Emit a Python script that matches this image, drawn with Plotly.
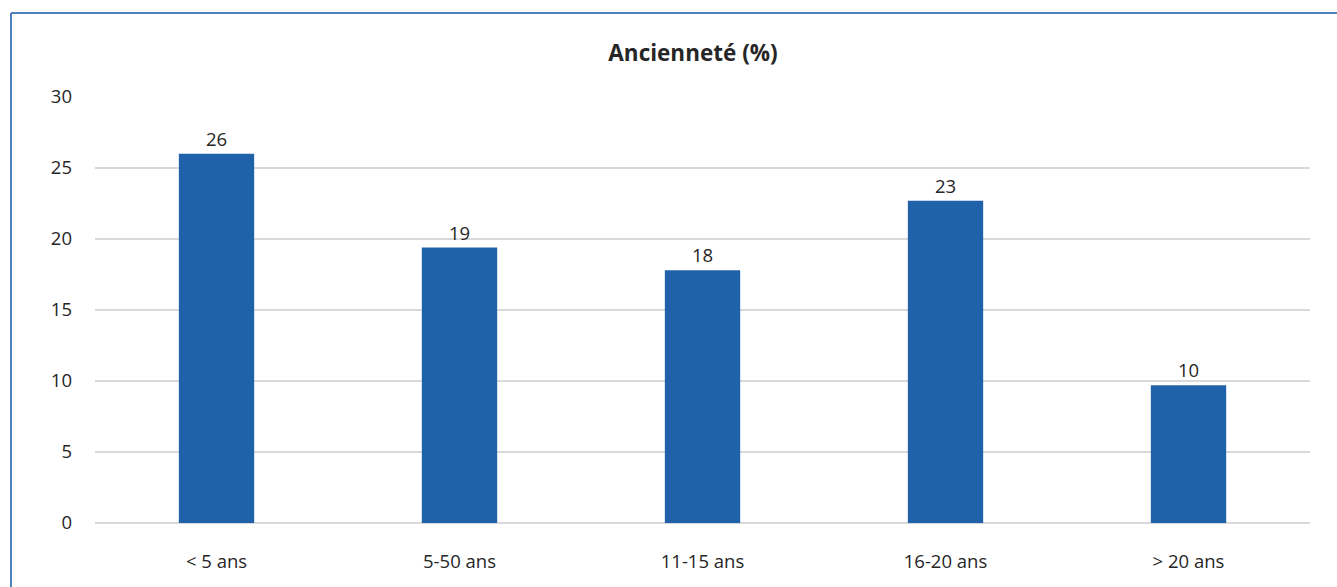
import plotly.graph_objects as go

# Ancienneté des répondants (%)
categories = ["< 5 ans", "5-50 ans", "11-15 ans", "16-20 ans", "> 20 ans"]
values = [26.0, 19.4, 17.8, 22.7, 9.7]
y_ticks = [0, 5, 10, 15, 20, 25, 30]

W, H = 1337, 587
L, R, T, B = 95, 27, 97, 64
pw, ph = W - L - R, H - T - B

FONT = "Open Sans"
TEXT = "#262626"
BAR = "#2062a9"
FRAME = "#4f81bd"

fig = go.Figure(
    go.Bar(
        x=categories,
        y=values,
        marker=dict(color=BAR, line=dict(width=0)),
        width=0.31,
        text=values,
        texttemplate="%{y:.0f}",
        textposition="outside",
        textfont=dict(family=FONT, size=18.5, color=TEXT),
        cliponaxis=False,
    )
)

def px_x(p):
    return (p - L) / pw

def px_y(p):
    return (H - B - p) / ph

# frame: top and left edges
fig.add_shape(type="line", xref="paper", yref="paper",
              x0=px_x(11), x1=px_x(W + 5), y0=px_y(13), y1=px_y(13),
              line=dict(color=FRAME, width=2))
fig.add_shape(type="line", xref="paper", yref="paper",
              x0=px_x(11), x1=px_x(11), y0=px_y(13), y1=px_y(H + 5),
              line=dict(color=FRAME, width=2))

fig.update_layout(
    width=W, height=H,
    margin=dict(l=L, r=R, t=T, b=B, pad=0),
    paper_bgcolor="white", plot_bgcolor="white",
    showlegend=False,
    bargap=0.69,
    title=dict(text="<b>Ancienneté (%)</b>", font=dict(family=FONT, size=22.5, color=TEXT),
               x=693 / W, xanchor="center", y=1 - 53 / H, yanchor="middle"),
    xaxis=dict(showgrid=False, showline=False, zeroline=False, ticks="",
               tickfont=dict(family=FONT, size=18.5, color=TEXT), ticklabelstandoff=25),
    yaxis=dict(range=[0, 30], tickvals=y_ticks, showgrid=True, gridcolor="#d9d9d9", gridwidth=2,
               zeroline=True, zerolinecolor="#d9d9d9", zerolinewidth=2, showline=False, ticks="",
               tickfont=dict(family=FONT, size=18.5, color=TEXT), ticklabelstandoff=22),
)

fig.write_html("out.html")
